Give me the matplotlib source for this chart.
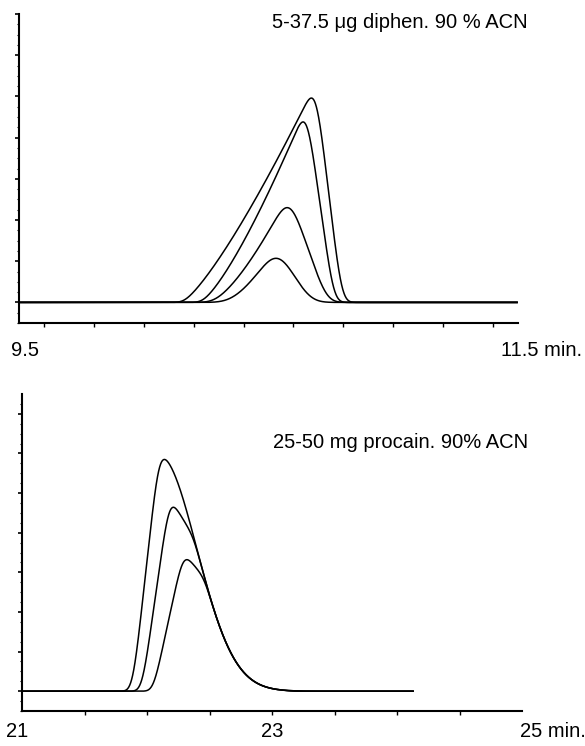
import numpy as np
import matplotlib
matplotlib.use('Agg')
import matplotlib.pyplot as plt

plt.rcParams['font.family'] = ['Liberation Sans', 'DejaVu Sans']

# diphenhydramine, 5-37.5 ug (fronting peaks), times in min, heights in tick units
diphen_apex_time = [10.672, 10.638, 10.575, 10.530]
diphen_height = [4.96, 4.38, 2.30, 1.07]
# band shape: foot, crest and end of the rear edge, rise curvature, dispersion
diphen_start = [10.15, 10.22, 10.27, 10.33]
diphen_crest = [10.685, 10.645, 10.585, 10.54]
diphen_end = [10.79, 10.755, 10.735, 10.67]
diphen_curv = [1.25, 1.3, 1.4, 1.5]
diphen_blur = [0.02, 0.02, 0.03, 0.04]

# procaine, 25-50 mg (tailing peaks sharing one rear profile)
procain_start = [21.885, 21.96, 22.05]
procain_apex = [22.095, 22.18, 22.29]
procain_end = [30.0, 23.13, 23.23]
procain_height = [6.0, 4.9, 3.5]
procain_blur = 0.035
tail_apex = 22.095
tail_height = 6.0
tail_width = 0.30
procain_run_end = 24.13

dt = 0.001


def smooth(y, sigma):
    n = int(4 * sigma / dt)
    k = np.exp(-0.5 * (np.arange(-n, n + 1) * dt / sigma) ** 2)
    k /= k.sum()
    return np.convolve(y, k, mode='same')


def band(t, t0, t1, t2, curv):
    # curved front up to the crest, straight rear edge down to t2
    y = np.zeros_like(t)
    up = (t > t0) & (t <= t1)
    y[up] = ((t[up] - t0) / (t1 - t0)) ** curv
    down = (t > t1) & (t < t2)
    y[down] = (t2 - t[down]) / (t2 - t1)
    return y


def triangle(t, t0, t1, t2, h):
    return h * np.interp(t, [t0, t1, t2], [0, 1, 0], left=0, right=0)


fig = plt.figure(figsize=(5.85, 7.46), dpi=100)
W, H = 585.0, 746.0


def place(x0, y_top, x1, y_bot):
    return fig.add_axes([x0 / W, 1 - y_bot / H, (x1 - x0) / W, (y_bot - y_top) / H])


def label(x, y, s, size=14.5, ha='left', va='baseline'):
    fig.text(x / W, 1 - y / H, s, fontsize=size, ha=ha, va=va)


def style(ax):
    for s in ['top', 'right']:
        ax.spines[s].set_visible(False)
    for s in ['left', 'bottom']:
        ax.spines[s].set_linewidth(1.5)
    ax.tick_params(axis='y', which='major', direction='out', length=3, width=1.2, labelleft=False)
    ax.tick_params(axis='y', which='minor', direction='out', length=1.5, width=0.8)
    ax.tick_params(axis='x', which='major', direction='out', length=3, width=1.0, labelbottom=False)


# ---- top: diphenhydramine
ax1 = place(19, 14, 518, 323)
t1 = np.arange(9.5, 11.5 + dt, dt)
for i in range(len(diphen_height)):
    y = smooth(band(t1, diphen_start[i], diphen_crest[i], diphen_end[i], diphen_curv[i]),
               diphen_blur[i])
    shift = diphen_apex_time[i] - t1[np.argmax(y)]
    y = y / y.max() * diphen_height[i]
    ax1.plot(t1 + shift, y, color='black', lw=1.1)
ax1.set_xlim(9.5, 11.5)
ax1.set_ylim(-0.5, 7)
ax1.set_yticks(np.arange(0, 8))
ax1.set_yticks(np.arange(-0.5, 7, 0.25), minor=True)
ax1.set_xticks(np.arange(9.6, 11.45, 0.2))
style(ax1)
label(272, 28, '5-37.5 \u03bcg diphen. 90 % ACN')
label(11, 356, '9.5')
label(501, 356, '11.5 min.')

# ---- bottom: procaine
ax2 = place(22, 394, 522, 711)
t2 = np.arange(21.0, procain_run_end, dt)
rear = np.where(t2 <= tail_apex, tail_height,
                tail_height * np.exp(-0.5 * ((t2 - tail_apex) / tail_width) ** 2))
for i in range(len(procain_apex)):
    raw = triangle(t2, procain_start[i], procain_apex[i], procain_end[i], procain_height[i])
    raw = np.minimum(raw, rear)
    ax2.plot(t2, smooth(raw, procain_blur), color='black', lw=1.1)
ax2.set_xlim(21, 25)
ax2.set_ylim(-0.5, 7.5)
ax2.set_yticks(np.arange(0, 8))
ax2.set_yticks(np.arange(-0.5, 7.5, 0.25), minor=True)
ax2.set_xticks(np.arange(21.5, 24.6, 0.5))
style(ax2)
label(273, 448, '25-50 mg procain. 90% ACN')
label(6, 737, '21')
label(272, 737, '23', ha='center')
label(520, 737, '25 min.')

fig.savefig('out.png', dpi=100)
